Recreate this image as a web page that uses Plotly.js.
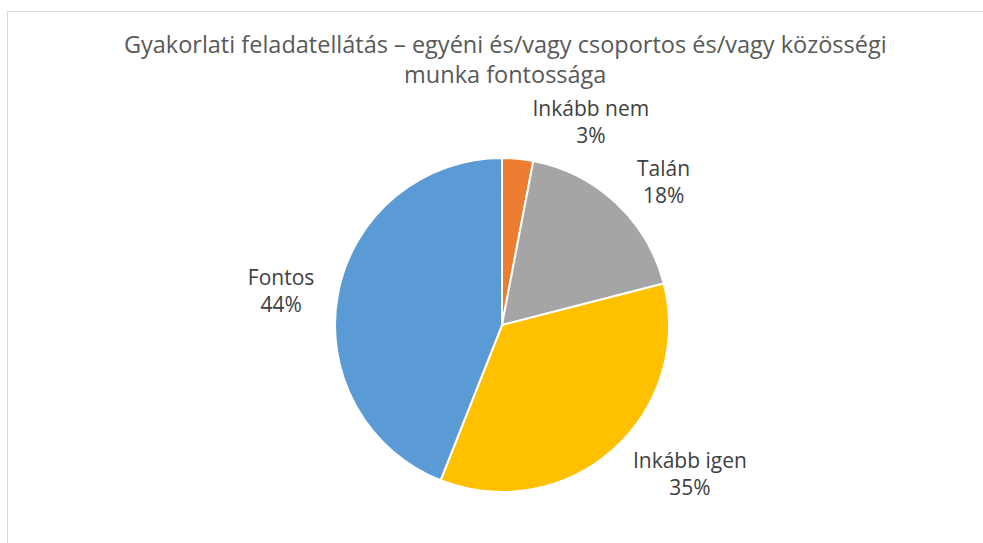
<!DOCTYPE html>
<html>
<head>
<meta charset="utf-8">
<script src="https://cdn.plot.ly/plotly-3.0.1.min.js"></script>
<style>
  html, body { margin: 0; padding: 0; background: #ffffff; }
  #wrap { position: relative; width: 983px; height: 543px; overflow: hidden; }
  #frame { position: absolute; left: 7px; top: 11px; width: 1100px; height: 700px; border: 1px solid #d9d9d9; box-sizing: border-box; }
  #chart { position: absolute; left: 0; top: 0; width: 983px; height: 543px; }
</style>
</head>
<body>
<div id="wrap">
  <div id="frame"></div>
  <div id="chart"></div>
</div>
<script>
const chartTitle = "Gyakorlati feladatellátás – egyéni és/vagy csoportos és/vagy közösségi<br>munka fontossága";
const categories = ["Inkább nem", "Talán", "Inkább igen", "Fontos"];
const values = [3, 18, 35, 44];
const sliceColors = ["#ED7D31", "#A5A5A5", "#FFC000", "#5B9BD5"];

// visible pie (slices only)
const pieTrace = {
  type: "pie",
  labels: categories,
  values: values,
  sort: false,
  direction: "clockwise",
  rotation: 0,
  marker: { colors: sliceColors, line: { color: "#ffffff", width: 2 } },
  textinfo: "none",
  hoverinfo: "label+percent",
  domain: { x: [0.2107, 0.8107], y: [0.0939, 0.7090] },
  automargin: false,
  showlegend: false
};

// transparent, slightly larger copy that only carries the outside data labels
const labelTrace = {
  type: "pie",
  labels: categories,
  values: values,
  sort: false,
  direction: "clockwise",
  rotation: 0,
  marker: { colors: categories.map(() => "rgba(0,0,0,0)"), line: { width: 0 } },
  texttemplate: "%{label}<br>%{percent:.0%}",
  textposition: "outside",
  outsidetextfont: { family: "Open Sans, sans-serif", size: 21, color: "#404040" },
  hoverinfo: "skip",
  domain: { x: [0.1107, 0.9107], y: [0.0755, 0.7275] },
  automargin: false,
  showlegend: false
};

const layout = {
  width: 983,
  height: 543,
  margin: { l: 0, r: 0, t: 0, b: 0 },
  paper_bgcolor: "rgba(0,0,0,0)",
  plot_bgcolor: "rgba(0,0,0,0)",
  title: {
    text: chartTitle,
    font: { family: "Open Sans, sans-serif", size: 23.5, color: "#595959" },
    x: 0.514, xanchor: "center",
    y: 0.903, yanchor: "top", yref: "container"
  },
  showlegend: false
};

Plotly.newPlot("chart", [labelTrace, pieTrace], layout, { displayModeBar: false, staticPlot: true });
</script>
</body>
</html>
